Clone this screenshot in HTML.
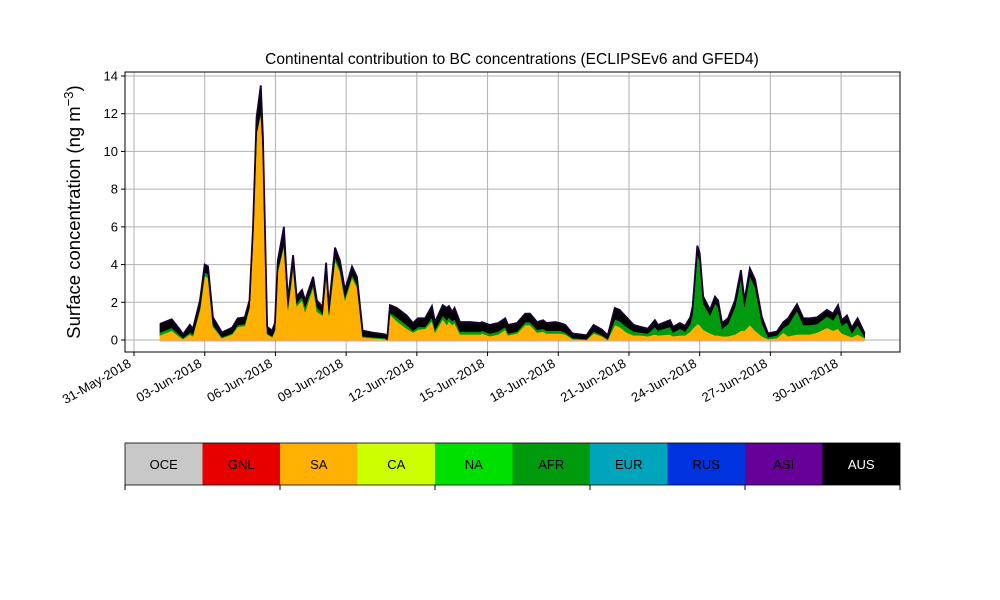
<!DOCTYPE html>
<html><head><meta charset="utf-8"><style>
body{margin:0;background:#fff;font-family:"Liberation Sans","DejaVu Sans",sans-serif}
svg{display:block}
</style></head><body>
<svg id="c" width="1000" height="600" viewBox="0 0 1000 600" xmlns="http://www.w3.org/2000/svg" font-family="Liberation Sans, DejaVu Sans, sans-serif"></svg>
<script>
const times=[1.1,1.6,1.95,2.08,2.37,2.5,2.8,3.0,3.14,3.35,3.73,4.16,4.4,4.7,4.9,5.05,5.2,5.38,5.47,5.65,5.86,5.98,6.1,6.36,6.53,6.75,6.9,7.13,7.26,7.6,7.76,8.0,8.15,8.27,8.53,8.74,8.95,9.25,9.46,9.7,10.1,10.65,10.75,10.86,11.15,11.57,11.84,12.05,12.35,12.64,12.77,13.1,13.27,13.36,13.5,13.6,13.83,14.26,14.7,14.76,15.1,15.45,15.75,15.87,16.25,16.6,16.8,17.1,17.36,17.5,17.86,18.07,18.3,18.6,19.2,19.5,19.85,20.1,20.4,20.6,20.9,21.2,21.47,21.8,22.1,22.23,22.74,22.87,23.16,23.38,23.6,23.7,23.9,24.0,24.15,24.44,24.65,24.78,24.95,25.2,25.5,25.75,25.9,26.13,26.35,26.64,26.9,27.28,27.55,27.75,28.13,28.4,28.68,28.98,29.4,29.66,29.87,30.03,30.25,30.45,30.7,31.0];
const saVals=[.25,.5,.15,.05,.3,.2,1.6,3.4,3.3,.7,.1,.3,.7,.75,1.7,5.5,10.9,12.0,10.0,.3,.15,.5,3.6,5.0,1.6,3.8,1.8,2.1,1.5,2.8,1.5,1.3,3.4,1.3,4.2,3.6,2.1,3.3,2.8,.15,.1,.05,0,1.35,1.0,.6,.4,.55,.6,1.0,.4,1.1,.8,1.0,.8,.9,.3,.3,.3,.35,.2,.3,.55,.25,.35,.8,.8,.4,.45,.35,.35,.35,.3,.05,0,.35,.2,0,.8,.7,.4,.25,.25,.2,.3,.25,.3,.2,.25,.25,.45,.6,.85,.8,.55,.35,.25,.25,.2,.2,.3,.5,.5,.8,.5,.2,.05,.1,.4,.2,.3,.3,.3,.4,.65,.5,.6,.35,.25,.15,.3,.1];
const afrVals=[.15,.15,.1,.05,.1,.1,.1,.2,.2,.1,.05,.05,.1,.1,.05,.05,.1,.1,.1,.05,.05,.05,.1,.1,.15,.2,.15,.2,.25,.15,.25,.1,.1,.1,.2,.15,.15,.15,.15,.05,.05,.05,0,.1,.2,.2,.1,.15,.1,.2,.15,.2,.25,.2,.2,.2,.15,.15,.15,.15,.15,.15,.15,.1,.1,.15,.15,.15,.15,.15,.15,.15,.1,.05,.05,.1,.05,.05,.3,.3,.3,.2,.15,.15,.4,.25,.4,.2,.35,.2,.4,.8,3.7,3.4,1.4,.95,1.7,1.5,.4,.65,1.45,2.8,1.25,2.6,2.3,.7,.1,.15,.25,.6,1.25,.5,.5,.45,.6,.55,.85,.4,.7,.2,.5,.05];
const ausVals=[.45,.45,.3,.2,.4,.3,.4,.4,.4,.4,.25,.3,.35,.35,.35,.45,.8,1.4,.7,.35,.3,.35,.5,.9,.35,.5,.35,.35,.35,.4,.35,.35,.6,.35,.5,.45,.4,.45,.4,.3,.25,.2,.2,.4,.5,.5,.4,.45,.45,.6,.4,.55,.65,.6,.5,.6,.5,.5,.45,.45,.45,.45,.45,.45,.45,.45,.45,.4,.45,.4,.45,.4,.4,.25,.2,.35,.3,.2,.6,.6,.5,.35,.3,.25,.35,.3,.35,.3,.3,.3,.35,.35,.45,.4,.35,.3,.35,.35,.3,.3,.35,.4,.35,.4,.4,.3,.2,.2,.3,.35,.35,.35,.35,.35,.35,.35,.4,.3,.35,.3,.35,.2];
const yTicks=[0,2,4,6,8,10,12,14];
const xTickDays=[0,3,6,9,12,15,18,21,24,27,30];
const xTickLabels=["31-May-2018","03-Jun-2018","06-Jun-2018","09-Jun-2018","12-Jun-2018","15-Jun-2018","18-Jun-2018","21-Jun-2018","24-Jun-2018","27-Jun-2018","30-Jun-2018"];
const regions=["OCE","GNL","SA","CA","NA","AFR","EUR","RUS","ASI","AUS"];
const regionColors=["#c8c8c8","#e60000","#ffb000","#ccff00","#00e000","#009a0f","#00a4bb","#0033dd","#660099","#000000"];

const NS="http://www.w3.org/2000/svg";
const svg=document.getElementById('c');
function mk(tag,attrs,parent){const e=document.createElementNS(NS,tag);for(const k in attrs)e.setAttribute(k,attrs[k]);(parent||svg).appendChild(e);return e;}
const PL=125,PR=900,PT=72,PB=352;
const xS=d=>134+d*23.57;
const yS=v=>340-v*18.857;

const grid=mk('g',{});


yTicks.forEach(v=>{mk('line',{x1:PL,x2:PR,y1:yS(v),y2:yS(v),stroke:'#b0b0b0','stroke-width':1},grid);});
xTickDays.forEach(d=>{mk('line',{x1:xS(d),x2:xS(d),y1:PT,y2:PB,stroke:'#b0b0b0','stroke-width':1},grid);});

const N=Math.min(times.length,saVals.length,afrVals.length,ausVals.length);
function areaPath(lo,hi){let p='M'+xS(times[0])+','+yS(hi[0]);for(let i=1;i<N;i++)p+='L'+xS(times[i])+','+yS(hi[i]);for(let i=N-1;i>=0;i--)p+='L'+xS(times[i])+','+yS(lo[i]);return p+'Z';}
const zero=times.map(()=>0);
const c1=saVals.slice();
const c2=c1.map((v,i)=>v+(afrVals[i]||0));
const c3=c2.map((v,i)=>v+(ausVals[i]||0));
const series=[[zero,c1,'#ffb000','area-sa'],[c1,c2,'#009a0f','area-afr'],[c2,c3,'#000000','area-aus']];
series.forEach(s=>{const p=mk('path',{d:areaPath(s[0],s[1]),fill:s[2],stroke:s[2],'stroke-width':0.6});

});
let tp='M'+xS(times[0])+','+yS(c3[0]);for(let i=1;i<N;i++)tp+='L'+xS(times[i])+','+yS(c3[i]);
const topOutline=mk('path',{d:tp,fill:'none',stroke:'#1a0033','stroke-width':1.8});


const gl=mk('line',{x1:xS(times[0]),x2:xS(times[N-1]),y1:341,y2:341,stroke:'#e8603c','stroke-width':1,opacity:0.6});



const fr=mk('rect',{x:PL,y:PT,width:PR-PL,height:PB-PT,fill:'none',stroke:'#000','stroke-width':1});



yTicks.forEach(v=>{mk('line',{x1:PL-4,x2:PL,y1:yS(v),y2:yS(v),stroke:'#000'});
const t=mk('text',{x:PL-7,y:yS(v)+4.5,'text-anchor':'end','font-size':13});t.textContent=v;

});
xTickDays.forEach((d,i)=>{mk('line',{x1:xS(d),x2:xS(d),y1:PB,y2:PB+4,stroke:'#000'});
const x=xS(d)-2,y=PB+14;
const t=mk('text',{x:x,y:y,'text-anchor':'end','font-size':13,transform:`rotate(-30 ${x} ${y})`});t.textContent=xTickLabels[i];

});

const ti=mk('text',{x:512,y:64,'text-anchor':'middle','font-size':15.5});ti.textContent='Continental contribution to BC concentrations (ECLIPSEv6 and GFED4)';


const yl=mk('text',{x:0,y:0,'text-anchor':'middle','font-size':18.5,transform:'translate(80,212) rotate(-90)'});
yl.innerHTML='Surface concentration (ng m<tspan dy="-7" font-size="13">−3</tspan><tspan dy="7">)</tspan>';



const lg=mk('g',{});


const LW=(900-125)/regions.length;
regions.forEach((r,i)=>{const x=125+i*LW;
const b=mk('rect',{x:x,y:443,width:LW,height:42,fill:regionColors[i]},lg);


const t=mk('text',{x:x+LW/2,y:469,'text-anchor':'middle','font-size':13,fill:r==='AUS'?'#fff':'#000'},lg);t.textContent=r;

});
mk('rect',{x:125,y:443,width:775,height:42,fill:'none',stroke:'#000','stroke-width':0.8},lg);
[0,2,4,6,8,10].forEach(k=>{mk('line',{x1:125+k*LW,x2:125+k*LW,y1:485,y2:490,stroke:'#000'},lg);});
</script>
</body></html>
